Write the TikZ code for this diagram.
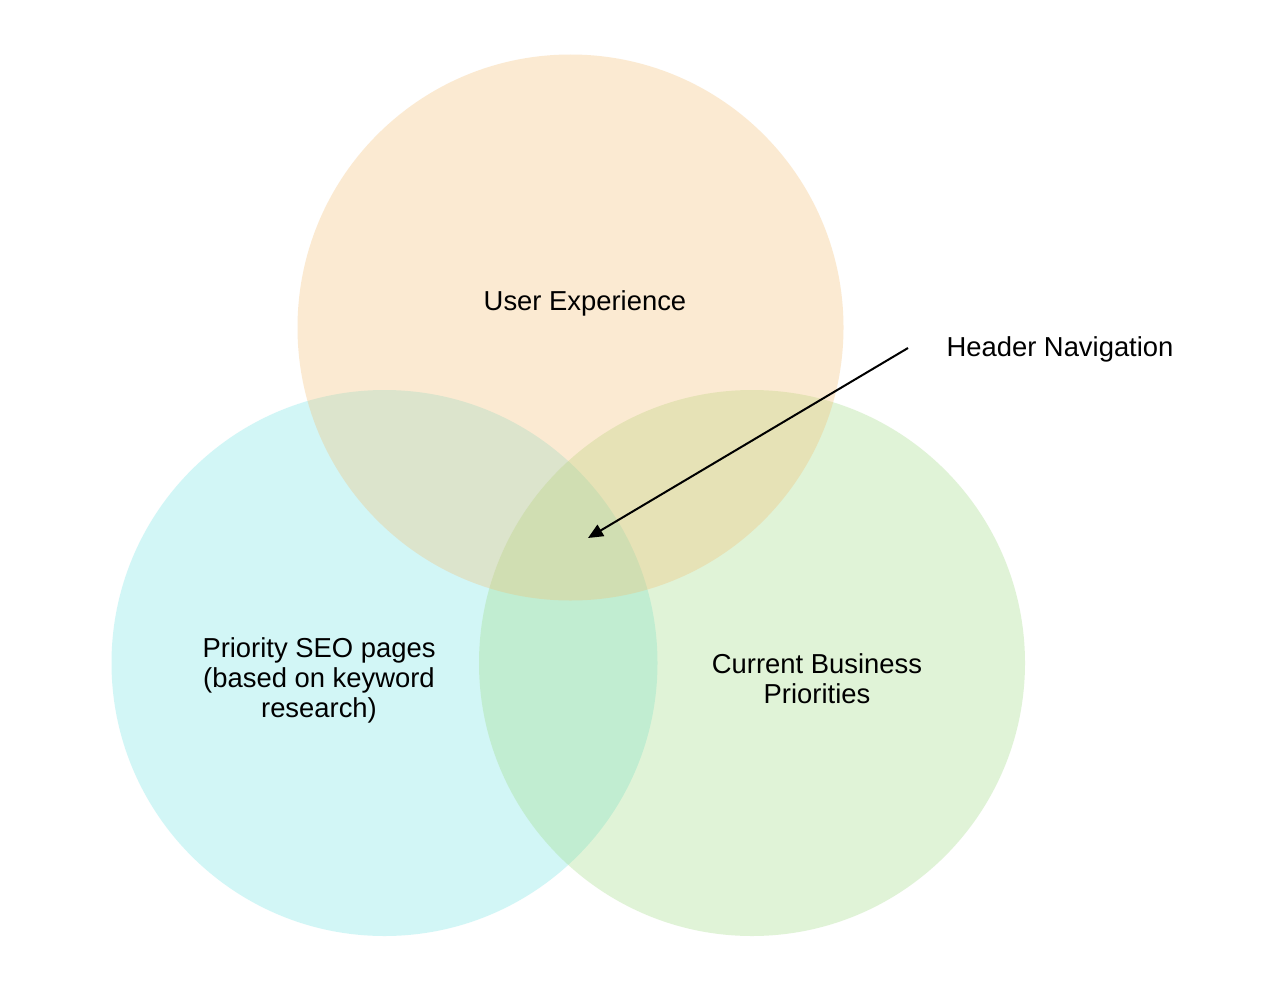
\documentclass[tikz,border=0pt]{standalone}
\usepackage{fontspec}
\setmainfont{Liberation Sans}
\usetikzlibrary{arrows.meta}
\definecolor{ux}{RGB}{245,188,108}
\definecolor{seo}{RGB}{108,228,228}
\definecolor{biz}{RGB}{155,218,125}
\tikzset{
  venn/.style={circle, minimum size=546pt, inner sep=0pt, fill opacity=0.3, draw=none},
  lbl/.style={font=\fontsize{27.4}{30}\selectfont, align=center, text=black, inner sep=0pt},
  arr/.style={line width=2pt, -{Triangle[length=15pt,width=13pt]}}
}
\begin{document}
\begin{tikzpicture}[x=1pt,y=-1pt]
\useasboundingbox (0,0) rectangle (1276,1006);
\fill[white] (0,0) rectangle (1276,1006);
\node[venn, fill=seo] (cseo) at (384.5,663) {};
\node[venn, fill=biz] (cbiz) at (752,663) {};
\node[venn, fill=ux] (cux) at (570.5,327.5) {};
\node[lbl] (tux) at (585,303) {User Experience};
\node[lbl] (tseo) at (319,680) {Priority SEO pages\\(based on keyword\\research)};
\node[lbl] (tbiz) at (817,679) {Current Business\\Priorities};
\node[lbl] (thead) at (1060,349) {Header Navigation};
\coordinate (astart) at (908,348);
\coordinate (aend) at (588,538);
\draw[arr] (astart) -- (aend);
\end{tikzpicture}
\end{document}
